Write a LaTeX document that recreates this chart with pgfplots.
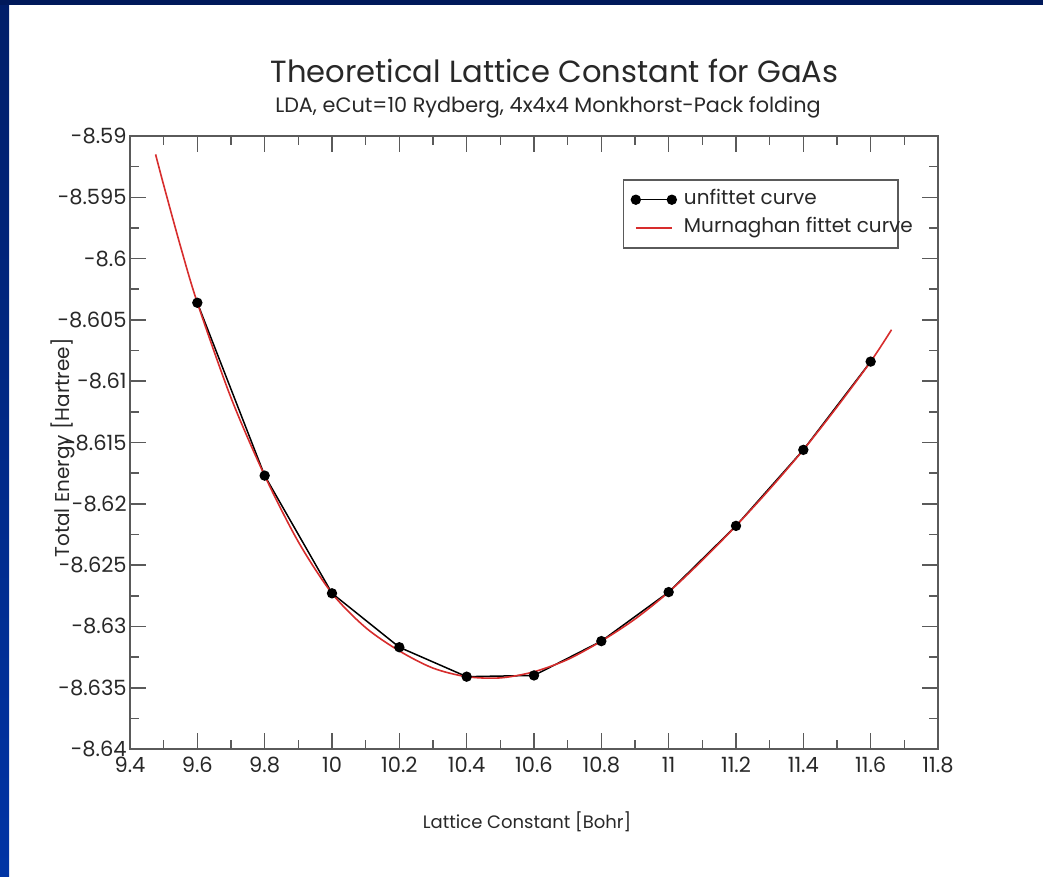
\documentclass[border=0pt]{standalone}
\usepackage{pgfplots}
\pgfplotsset{compat=1.18}
\usepackage{fontspec}
\setmainfont{Poppins}
\definecolor{axgray}{RGB}{90,90,90}
\definecolor{txt}{RGB}{40,40,40}
\definecolor{fitred}{RGB}{215,45,45}
\definecolor{navy}{RGB}{0,25,90}
\definecolor{bluetop}{RGB}{0,30,105}
\definecolor{bluebot}{RGB}{0,52,165}
\begin{document}
\begin{tikzpicture}
\path[use as bounding box, fill=white] (0pt,0pt) rectangle (521.5pt,-438.5pt);
\shade[top color=bluetop, bottom color=bluebot] (0pt,0pt) rectangle (4.5pt,-438.5pt);
\fill[navy] (0pt,0pt) rectangle (521.5pt,-2.5pt);
\node[anchor=base, text=txt, font=\fontsize{15.3}{18}\selectfont] at (277.25pt,-41.5pt) {Theoretical Lattice Constant for GaAs};
\node[anchor=base, text=txt, font=\fontsize{10.4}{12}\selectfont] at (274pt,-56.5pt) {LDA, eCut=10 Rydberg, 4x4x4 Monkhorst-Pack folding};
\node[anchor=base, text=txt, font=\fontsize{9}{11}\selectfont] at (263.5pt,-414pt) {Lattice Constant [Bohr]};
\node[rotate=90, anchor=center, text=txt, font=\fontsize{10}{12}\selectfont] at (31.5pt,-224pt) {Total Energy [Hartree]};
\begin{axis}[
  at={(65pt,-374.5pt)}, anchor=south west,
  width=404pt, height=306.5pt, scale only axis,
  xmin=9.4, xmax=11.8, ymin=-8.64, ymax=-8.59,
  xtick={9.4,9.6,9.8,10,10.2,10.4,10.6,10.8,11,11.2,11.4,11.6,11.8},
  xticklabels={9.4,9.6,9.8,10,10.2,10.4,10.6,10.8,11,11.2,11.4,11.6,11.8},
  ytick={-8.64,-8.635,-8.63,-8.625,-8.62,-8.615,-8.61,-8.605,-8.6,-8.595,-8.59},
  yticklabels={-8.64,-8.635,-8.63,-8.625,-8.62,-8.615,-8.61,-8.605,-8.6,-8.595,-8.59},
  minor x tick num=1, minor y tick num=1,
  tick align=inside,
  major tick length=8pt, minor tick length=4.5pt,
  axis line style={line width=1.2pt, color=axgray},
  tick style={line width=0.8pt, color=axgray},
  xticklabel style={font=\fontsize{10.5}{12}\selectfont, text=txt, inner sep=0pt, yshift=-4pt},
  yticklabel style={font=\fontsize{10.5}{12}\selectfont, text=txt, inner sep=0pt, xshift=-1.5pt},
  legend style={at={(0.610,0.930)}, anchor=north west, draw=axgray, line width=0.8pt,
    font=\fontsize{10}{12}\selectfont, text=txt, inner xsep=3.5pt, inner ysep=5pt, row sep=4pt,
    nodes={inner ysep=0pt, inner xsep=3.5pt, text height=7.5pt, text depth=2.5pt}},
  legend cell align=left,
]
\addplot[black, line width=0.75pt, mark=*, mark size=2.2pt, mark options={fill=black},
  legend image code/.code={\draw[black,line width=0.75pt] (0pt,0pt) -- (18pt,0pt);
    \fill[black] (0pt,0pt) circle (2.2pt) (18pt,0pt) circle (2.2pt);}] coordinates {
(9.6,-8.6036) (9.8,-8.6177) (10.0,-8.6273) (10.2,-8.6317) (10.4,-8.6341) (10.6,-8.6340)
(10.8,-8.6312) (11.0,-8.6272) (11.2,-8.6218) (11.4,-8.6156) (11.6,-8.6084)};
\addlegendentry{unfittet curve}
\addplot[fitred, line width=0.8pt, smooth, mark=none,
  legend image code/.code={\draw[fitred,line width=0.8pt] (0pt,0pt) -- (18pt,0pt);}] coordinates {
(9.476,-8.5915) (9.5,-8.5940) (9.55,-8.5990) (9.6,-8.6036) (9.7,-8.61135) (9.8,-8.6177)
(9.9,-8.6231) (10.0,-8.6273) (10.1,-8.6301) (10.2,-8.6320) (10.3,-8.6334) (10.4,-8.6341)
(10.5,-8.6342) (10.6,-8.6337) (10.7,-8.6327) (10.8,-8.6312) (10.9,-8.6294) (11.0,-8.6272)
(11.1,-8.6246) (11.2,-8.6218) (11.3,-8.6188) (11.4,-8.6156) (11.5,-8.6121) (11.6,-8.6084)
(11.662,-8.6058)};
\addlegendentry{\makebox[100pt][l]{Murnaghan fittet curve}}
\end{axis}
\end{tikzpicture}
\end{document}
